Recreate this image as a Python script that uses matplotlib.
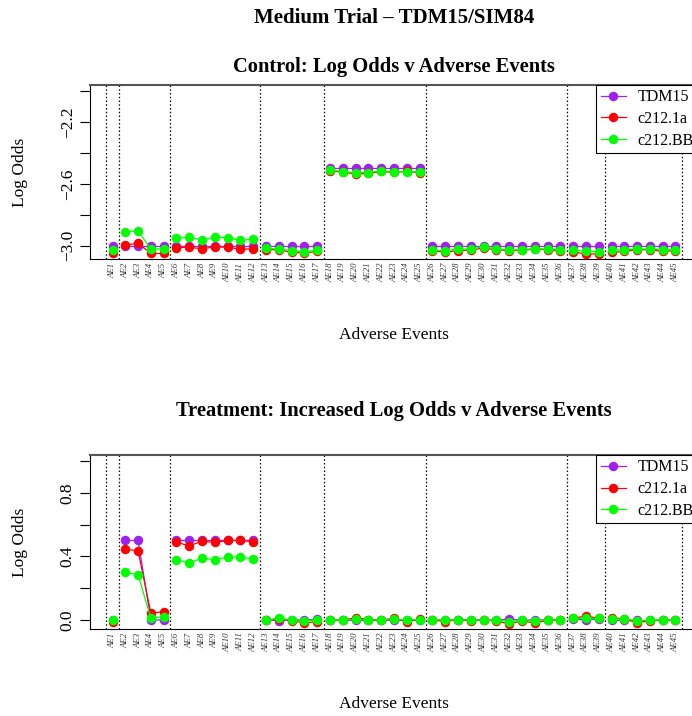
import numpy as np
import matplotlib
matplotlib.use("Agg")
import matplotlib.pyplot as plt

plt.rcParams["font.family"] = ["Liberation Serif", "DejaVu Serif"]

ae_labels = ["AE%d" % i for i in range(1, 46)]
group_sizes = [1, 4, 7, 5, 8, 11, 3, 6]
series_names = ["TDM15", "c212.1a", "c212.BB"]
series_colors = ["#A020F0", "#FF0000", "#00FF00"]

ctrl_tdm15 = [-3.0] * 17 + [-2.5] * 8 + [-3.0] * 20
ctrl_c212_1a = [-3.045, -2.995, -2.985, -3.05, -3.05, -3.013, -3.01, -3.02, -3.008,
                -3.01, -3.023, -3.02, -3.026, -3.026, -3.043, -3.047, -3.037,
                -2.515, -2.525, -2.536, -2.533, -2.52, -2.526, -2.52, -2.527,
                -3.032, -3.041, -3.032, -3.028, -3.015, -3.026, -3.032, -3.03,
                -3.022, -3.026, -3.037, -3.039, -3.054, -3.054,
                -3.043, -3.037, -3.026, -3.026, -3.037, -3.032]
ctrl_c212_bb = [-3.03, -2.909, -2.905, -3.023, -3.02, -2.952, -2.946, -2.963, -2.946,
                -2.948, -2.965, -2.958, -3.017, -3.022, -3.032, -3.041, -3.028,
                -2.51, -2.521, -2.527, -2.527, -2.515, -2.521, -2.521, -2.521,
                -3.028, -3.032, -3.022, -3.022, -3.006, -3.022, -3.028, -3.026,
                -3.019, -3.022, -3.028, -3.028, -3.037, -3.039,
                -3.028, -3.026, -3.022, -3.022, -3.026, -3.026]

trt_tdm15 = ([0.0, 0.5, 0.5, 0.0, 0.0] + [0.5] * 7 +
             [0.0, -0.004, 0.0, 0.0, 0.004] + [0.0] * 8 +
             [0.0] * 6 + [0.004] + [0.0] * 4 +
             [0.005, 0.0, 0.005] + [0.0] * 6)
trt_c212_1a = [-0.01, 0.446, 0.434, 0.042, 0.053, 0.488, 0.467, 0.495, 0.488, 0.5,
               0.5, 0.493, 0.0, 0.005, -0.004, -0.02, -0.01, 0.0, -0.002, 0.015,
               0.002, 0.0, 0.01, -0.01, 0.004, 0.0, -0.01, 0.002, -0.006, -0.002,
               -0.006, -0.025, -0.006, -0.02, -0.002, 0.0, 0.01, 0.025, 0.01,
               0.015, 0.006, -0.017, -0.006, 0.0, -0.002]
trt_c212_bb = [0.0, 0.299, 0.284, 0.01, 0.021, 0.379, 0.358, 0.389, 0.379, 0.396,
               0.396, 0.383, 0.0, 0.01, 0.0, -0.004, -0.002, 0.0, -0.002, 0.004,
               0.002, 0.0, 0.004, 0.0, 0.002, 0.002, -0.002, 0.002, 0.0, -0.002,
               -0.002, -0.01, -0.002, -0.006, 0.0, 0.002, 0.01, 0.01, 0.01,
               0.006, 0.006, -0.004, -0.002, 0.0, -0.002]

W, H = 692, 716


def draw_panel(ax, series, ylim, yticks, ylabels):
    x = np.arange(1, len(ae_labels) + 1)
    edges = np.concatenate([[0], np.cumsum(group_sizes)])
    for vals, name, col in zip(series, series_names, series_colors):
        vals = np.asarray(vals)
        for gi in range(len(group_sizes)):
            s, e = edges[gi], edges[gi + 1]
            ax.plot(x[s:e], vals[s:e], color=col, lw=0.9, marker="o", ms=5.8,
                    label=name if gi == 0 else None, zorder=3)
    for b in edges:
        ax.axvline(b + 0.5, color="black", ls=(0, (1.2, 1.8)), lw=0.9, zorder=1)
    ax.set_xlim(-0.76, 46.76)
    ax.set_ylim(*ylim)
    ax.set_xticks(x)
    ax.set_xticklabels(ae_labels, rotation=90, fontsize=6.3, style="italic",
                       color="#333333")
    ax.tick_params(axis="x", length=0, pad=2.5)
    ax.set_yticks(yticks)
    ax.set_yticklabels(ylabels, rotation=90, va="center", fontsize=12.5)
    ax.tick_params(axis="y", length=7.2, width=0.8, pad=3)
    for sp in ["left", "bottom", "right"]:
        ax.spines[sp].set_linewidth(0.8)
    ax.spines["top"].set_color("#555555")
    ax.spines["top"].set_linewidth(1.5)
    leg = ax.legend(loc="upper right", borderaxespad=0, fontsize=11.5,
                    fancybox=False, framealpha=1, edgecolor="black",
                    handlelength=1.6, handletextpad=0.7, labelspacing=0.36,
                    borderpad=0.28)
    leg.get_frame().set_linewidth(0.8)


fig = plt.figure(figsize=(W / 100, H / 100), dpi=100)

ax1 = fig.add_axes([90 / W, 1 - 259.3 / H, 608 / W, 174.6 / H])
top_ticks = [-3.0, -2.8, -2.6, -2.4, -2.2, -2.0]
draw_panel(ax1, [ctrl_tdm15, ctrl_c212_1a, ctrl_c212_bb], (-3.088, -1.959),
           top_ticks, ["\u22123.0", "", "\u22122.6", "", "\u22122.2", ""])

ax2 = fig.add_axes([90 / W, 1 - 629 / H, 608 / W, 174 / H])
bot_ticks = [0.0, 0.2, 0.4, 0.6, 0.8, 1.0]
draw_panel(ax2, [trt_tdm15, trt_c212_1a, trt_c212_bb], (-0.057, 1.038),
           bot_ticks, ["0.0", "", "0.4", "", "0.8", ""])

cx = 394 / W
fig.text(cx, 1 - 18 / H, "Medium Trial \u2013 TDM15/SIM84", ha="center", va="center",
         fontsize=15, fontweight="bold")
fig.text(cx, 1 - 67 / H, "Control: Log Odds v Adverse Events", ha="center",
         va="center", fontsize=14.8, fontweight="bold")
fig.text(cx, 1 - 335 / H, "Adverse Events", ha="center", va="center", fontsize=12.5)
fig.text(cx, 1 - 411 / H, "Treatment: Increased Log Odds v Adverse Events",
         ha="center", va="center", fontsize=14.8, fontweight="bold")
fig.text(cx, 1 - 704 / H, "Adverse Events", ha="center", va="center", fontsize=12.5)
fig.text(20 / W, 1 - 172 / H, "Log Odds", rotation=90, ha="center", va="center",
         fontsize=12.5)
fig.text(20 / W, 1 - 542 / H, "Log Odds", rotation=90, ha="center", va="center",
         fontsize=12.5)

fig.savefig("out.png", dpi=100)
